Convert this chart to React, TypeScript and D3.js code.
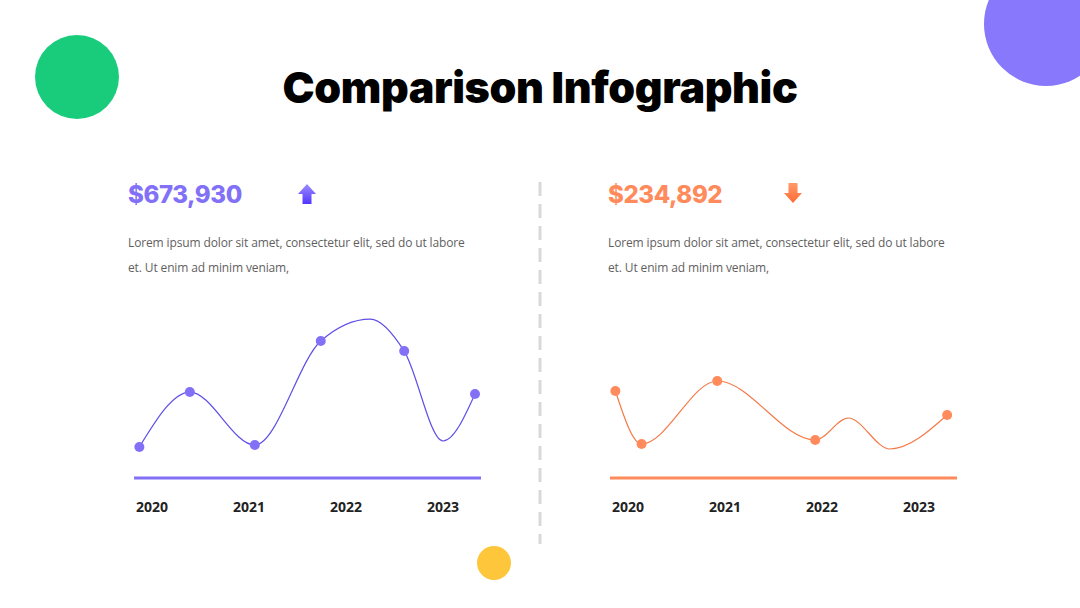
import { useMemo } from "react";
import { scaleLinear, line, curveMonotoneX } from "d3";

// year positions are fractional because the dots sit between the tick labels
const years = [2020, 2021, 2022, 2023];

// left panel (up)
const upDots = [
  { year: 2019.87, value: 17.4 },
  { year: 2020.39, value: 48.3 },
  { year: 2021.06, value: 18.5 },
  { year: 2021.74, value: 77.0 },
  { year: 2022.6, value: 71.3 },
  { year: 2023.33, value: 47.2 },
];
// turning points the curve passes through without a marker
const upBends = [
  { year: 2022.25, value: 89.3 },
  { year: 2023.0, value: 20.8 },
];

// right panel (down)
const downDots = [
  { year: 2019.87, value: 48.9 },
  { year: 2020.14, value: 19.1 },
  { year: 2020.92, value: 54.5 },
  { year: 2021.93, value: 21.3 },
  { year: 2023.29, value: 35.4 },
];
const downBends = [
  { year: 2022.27, value: 33.7 },
  { year: 2022.7, value: 16.3 },
];

const body = [
  "Lorem ipsum dolor sit amet, consectetur elit, sed do ut labore",
  "et. Ut enim ad minim veniam,",
];

interface Pt {
  year: number;
  value: number;
}

interface PanelProps {
  dx: number;
  textDx: number;
  amount: string;
  up: boolean;
  color: string;
  lineColor: string;
  dots: Pt[];
  bends: Pt[];
}

function Panel({ dx, textDx, amount, up, color, lineColor, dots, bends }: PanelProps) {
  const x = scaleLinear().domain([2020, 2023]).range([152, 443]);
  const y = scaleLinear().domain([0, 100]).range([478, 300]);

  const path = useMemo(() => {
    const all = [...dots, ...bends].sort((a, b) => a.year - b.year);
    return line<Pt>()
      .x((d) => x(d.year))
      .y((d) => y(d.value))
      .curve(curveMonotoneX)(all);
  }, [dots, bends]);

  const gid = up ? "gradUp" : "gradDown";
  // arrow centered at ax, spanning 184..204
  const ax = 307;
  const arrow = up
    ? `M${ax},184 L${ax + 9},194 L${ax + 4.5},194 L${ax + 4.5},204 L${ax - 4.5},204 L${ax - 4.5},194 L${ax - 9},194 Z`
    : `M${ax + 486},203 L${ax + 495},193 L${ax + 490.5},193 L${ax + 490.5},183 L${ax + 481.5},183 L${ax + 481.5},193 L${ax + 477},193 Z`;

  return (
    <g>
      <defs>
        <linearGradient id={gid} x1="0" y1="0" x2="0" y2="1">
          <stop offset="0%" stopColor={up ? "#9d8dff" : "#ff9a6a"} />
          <stop offset="100%" stopColor={up ? "#5236ff" : "#ff6a33"} />
        </linearGradient>
      </defs>
      <path d={arrow} fill={`url(#${gid})`} />
      <g transform={`translate(${textDx},0)`}>
        <text
          x={128}
          y={203}
          fill={color}
          fontFamily="Inter, sans-serif"
          fontWeight={800}
          fontSize={24}
          letterSpacing={-0.4}
        >
          {amount}
        </text>
        {body.map((t, i) => (
          <text
            key={i}
            x={128}
            y={247 + i * 25}
            fill="#5f5f5f"
            fontFamily="'Open Sans', sans-serif"
            fontSize={12}
            letterSpacing={-0.13}
          >
            {t}
          </text>
        ))}
      </g>
      <g transform={`translate(${dx},0)`}>
        <path d={path ?? ""} fill="none" stroke={lineColor} strokeWidth={1.2} />
        {dots.map((d, i) => (
          <circle key={i} cx={x(d.year)} cy={y(d.value)} r={5} fill={color} />
        ))}
        <line
          x1={134}
          x2={481}
          y1={y(0)}
          y2={y(0)}
          stroke={color}
          strokeWidth={3}
        />
        {years.map((yr) => (
          <text
            key={yr}
            x={x(yr)}
            y={512}
            textAnchor="middle"
            fill="#222"
            fontFamily="'Open Sans', sans-serif"
            fontWeight={700}
            fontSize={14}
          >
            {yr}
          </text>
        ))}
      </g>
    </g>
  );
}

export default function App() {
  return (
    <svg
      width={1080}
      height={608}
      style={{ position: "absolute", left: 0, top: 0, background: "#fff" }}
    >
      <rect width={1080} height={608} fill="#fff" />
      <circle cx={77} cy={77} r={42} fill="#18cc7c" />
      <circle cx={1046} cy={24} r={62} fill="#8878fc" />
      <circle cx={494} cy={563} r={17} fill="#fdc63b" />
      <text
        x={540}
        y={103}
        textAnchor="middle"
        fill="#000"
        fontFamily="Inter, sans-serif"
        fontWeight={900}
        fontSize={43}
        letterSpacing={-0.4}
      >
        Comparison Infographic
      </text>
      <line
        x1={540}
        x2={540}
        y1={182}
        y2={544}
        stroke="#d9d9d9"
        strokeWidth={3}
        strokeDasharray="14 8"
      />
      <Panel
        dx={0}
        textDx={0}
        amount="$673,930"
        up
        color="#8270f7"
        lineColor="#5f4fe8"
        dots={upDots}
        bends={upBends}
      />
      <Panel
        dx={476}
        textDx={480}
        amount="$234,892"
        up={false}
        color="#ff8a5b"
        lineColor="#f47a48"
        dots={downDots}
        bends={downBends}
      />
    </svg>
  );
}
